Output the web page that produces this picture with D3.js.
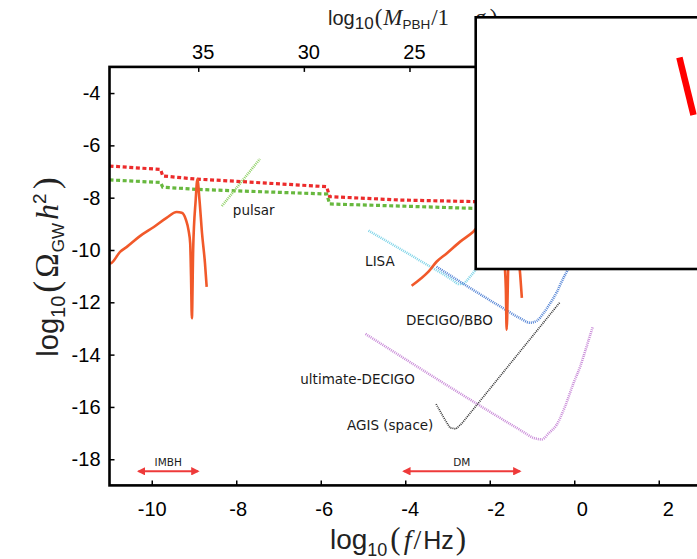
<!DOCTYPE html>
<html>
<head>
<meta charset="utf-8">
<script src="https://cdn.jsdelivr.net/npm/d3@7"></script>
<style>
  html, body { margin: 0; padding: 0; background: #fff; overflow: hidden; }
  svg { display: block; }
</style>
</head>
<body>
<svg id="chart"></svg>
<script>
// GW background from PBH formation vs. detector sensitivities
// all series are [log10(f/Hz), log10(Omega_GW h^2)]

const xTicks = [-10, -8, -6, -4, -2, 0, 2];
const yTicks = [-18, -16, -14, -12, -10, -8, -6, -4];
const massTicks = [35, 30, 25, 20, 15];
const massOffset = 17.2; // log10(M/1g) = massOffset - 2 log10(f/Hz)

// induced spectra (solid orange)
const spectrumImbh = [
    [-11.00, -10.52], [-10.95, -10.49], [-10.75, -10.07], [-10.59, -9.88], [-10.28, -9.47],
    [-9.96, -9.13], [-9.65, -8.77], [-9.41, -8.55], [-9.29, -8.58], [-9.19, -8.85],
    [-9.13, -9.24], [-9.09, -9.75], [-9.07, -11.02], [-9.05, -12.61], [-9.02, -10.00],
    [-8.96, -8.09], [-8.92, -7.30], [-8.87, -8.09], [-8.81, -9.36], [-8.74, -10.51], [-8.70, -11.41]
];
const spectrumDm = [
    [-3.85, -11.37], [-3.65, -11.12], [-3.45, -10.83], [-3.26, -10.45], [-3.02, -10.13],
    [-2.70, -9.68], [-2.39, -9.30], [-2.19, -8.97], [-1.95, -8.97], [-1.83, -9.27],
    [-1.73, -9.66], [-1.67, -10.17], [-1.62, -11.44], [-1.60, -13.05], [-1.56, -10.42],
    [-1.50, -8.51], [-1.46, -7.72], [-1.41, -8.51], [-1.35, -9.78], [-1.28, -10.93], [-1.24, -11.83]
];

// upper bounds (thick dotted)
const boundRed = [
    [-11.0, -6.79], [-9.79, -6.92], [-9.74, -7.17], [-8.94, -7.29], [-8.15, -7.36],
    [-5.86, -7.58], [-5.79, -7.96], [-4.12, -8.09], [-2.36, -8.15], [-2.0, -8.17]
];
const boundGreen = [
    [-11.0, -7.32], [-9.79, -7.42], [-9.74, -7.60], [-8.94, -7.68], [-8.15, -7.73],
    [-5.86, -7.86], [-5.79, -8.24], [-4.12, -8.32], [-2.36, -8.41], [-2.0, -8.43]
];

// detector sensitivities
const pulsar = [[-8.34, -8.32], [-7.44, -6.52]];
const lisa = [
    [-4.87, -9.26], [-3.50, -10.55], [-2.86, -11.17], [-2.74, -11.30], [-2.63, -11.29],
    [-2.55, -11.18], [-2.47, -11.03], [-2.35, -10.78], [-2.15, -10.10]
];
const decigo = [
    [-3.26, -10.64], [-1.68, -12.23], [-1.28, -12.61], [-1.05, -12.78], [-0.89, -12.71],
    [-0.73, -12.42], [-0.57, -12.04], [-0.41, -11.60], [-0.26, -11.08], [-0.16, -10.77], [0.0, -10.10]
];
const agis = [
    [-3.27, -15.89], [-3.10, -16.38], [-2.94, -16.80], [-2.80, -16.84], [-2.66, -16.63], [-0.34, -12.00]
];
const ultimateDecigo = [
    [-4.94, -13.21], [-1.21, -16.95], [-0.97, -17.18], [-0.77, -17.24], [-0.60, -17.00],
    [-0.42, -16.69], [-0.22, -15.99], [-0.02, -15.10], [0.14, -14.46], [0.29, -13.70], [0.44, -12.93]
];

// text anchors for curve labels [f, omega]
const curveLabels = [
    { text: "pulsar", at: [-8.08, -8.66], anchor: "start" },
    { text: "LISA", at: [-4.95, -10.61], anchor: "start" },
    { text: "DECIGO/BBO", at: [-3.98, -12.87], anchor: "start" },
    { text: "ultimate-DECIGO", at: [-3.77, -15.12], anchor: "end" },
    { text: "AGIS (space)", at: [-5.38, -16.88], anchor: "start" }
];

// mass ranges shown as arrows along the bottom
const rangeNames = ["IMBH", "DM"];
const rangeFrom = [-10.36, -4.08];
const rangeTo = [-8.86, -1.24];
const rangeLevel = -18.46;

// inset panel: visible fragment of its red curve, fractions of the panel
const insetCurve = [[0.679, 0.84], [0.726, 0.612]];

const W = 697, H = 559;
const sans = "'Liberation Sans', Arial, sans-serif";
const serif = "'Liberation Serif', 'Times New Roman', serif";
const labelFont = "'DejaVu Sans', sans-serif";

const svg = d3.select("#chart").attr("width", W).attr("height", H);
svg.append("rect").attr("width", W).attr("height", H).attr("fill", "#fff");

const x = d3.scaleLinear().domain([-11, 3]).range([109.5, 701]);
const y = d3.scaleLinear().domain([-19, -3]).range([485.4, 66.9]);
const xMass = d3.scaleLinear()
    .domain([massOffset - 2 * -11, massOffset - 2 * 3])
    .range(x.range());
// the printed tick numbers sit on a slightly wider spacing than the tick marks
const xLabel = d3.scaleLinear().domain([-10, 2]).range([x(-10), x(-10) + 516]);

const defs = svg.append("defs");
defs.append("clipPath").attr("id", "plot-clip")
    .append("rect")
    .attr("x", x(-11)).attr("y", y(-3))
    .attr("width", x(3) - x(-11)).attr("height", y(-19) - y(-3));

defs.append("marker")
    .attr("id", "arrow-head")
    .attr("viewBox", "0 0 10 10")
    .attr("refX", 8).attr("refY", 5)
    .attr("markerWidth", 4.2).attr("markerHeight", 4.2)
    .attr("orient", "auto-start-reverse")
    .append("path")
    .attr("d", "M0,0 L10,5 L0,10 z")
    .attr("fill", "#ee3a3a");

const line = d3.line().x(function (d) { return x(d[0]); }).y(function (d) { return y(d[1]); });
const smooth = d3.line().curve(d3.curveMonotoneX)
    .x(function (d) { return x(d[0]); }).y(function (d) { return y(d[1]); });

// axes
function styleAxis(g) {
    g.select(".domain").remove();
    g.selectAll(".tick line").attr("stroke", "#000").attr("stroke-width", 1.5);
    g.selectAll(".tick text")
        .attr("font-family", sans)
        .attr("font-size", 20)
        .attr("fill", "#000");
}
const fmt = function (d) { return String(d); };

// bottom: marks, then numbers
svg.append("g")
    .attr("transform", "translate(0," + y(-19) + ")")
    .call(d3.axisBottom(x).tickValues(xTicks).tickSize(-5).tickFormat(""))
    .call(styleAxis);
svg.append("g")
    .attr("transform", "translate(0," + y(-19) + ")")
    .call(d3.axisBottom(xLabel).tickValues(xTicks).tickSize(0).tickPadding(16).tickFormat(fmt))
    .call(styleAxis)
    .call(function (g) { g.selectAll(".tick line").remove(); });

svg.append("g")
    .attr("transform", "translate(" + x(-11) + ",0)")
    .call(d3.axisLeft(y).tickValues(yTicks).tickSize(-5).tickPadding(9).tickFormat(fmt))
    .call(styleAxis);

// top: PBH mass
svg.append("g")
    .attr("transform", "translate(0," + y(-3) + ")")
    .call(d3.axisTop(xMass).tickValues(massTicks).tickSize(-5).tickFormat(""))
    .call(styleAxis);
svg.append("g")
    .attr("transform", "translate(4.5," + y(-3) + ")")
    .call(d3.axisTop(xMass).tickValues(massTicks).tickSize(0).tickPadding(8).tickFormat(fmt))
    .call(styleAxis)
    .call(function (g) { g.selectAll(".tick line").remove(); });

// data
const plotG = svg.append("g").attr("clip-path", "url(#plot-clip)");

function dotted(data, color, width, dash, gen) {
    plotG.append("path")
        .datum(data)
        .attr("d", gen || smooth)
        .attr("fill", "none")
        .attr("stroke", color)
        .attr("stroke-width", width)
        .attr("stroke-dasharray", dash);
}

dotted(boundRed, "#ec2b2b", 3.2, "4 2.6", line);
dotted(boundGreen, "#67b83e", 3.2, "4 2.6", line);
dotted(pulsar, "#8fd065", 2.6, "1 1", line);
dotted(lisa, "#7fd4e8", 2.6, "1 1");
dotted(decigo, "#5585d6", 2.6, "1 1");
dotted(ultimateDecigo, "#c98bd8", 2.6, "1 1");
dotted(agis, "#333333", 1.7, "1 1", line);

[spectrumImbh, spectrumDm].forEach(function (s) {
    plotG.append("path")
        .datum(s)
        .attr("d", smooth)
        .attr("fill", "none")
        .attr("stroke", "#f1592a")
        .attr("stroke-width", 2.6)
        .attr("stroke-linejoin", "round");
});

svg.selectAll(".curve-label")
    .data(curveLabels)
    .enter()
    .append("text")
    .attr("class", "curve-label")
    .attr("x", function (d) { return x(d.at[0]); })
    .attr("y", function (d) { return y(d.at[1]); })
    .attr("text-anchor", function (d) { return d.anchor; })
    .attr("font-family", labelFont)
    .attr("font-size", 13.5)
    .attr("fill", "#1a1a1a")
    .text(function (d) { return d.text; });

rangeNames.forEach(function (name, i) {
    svg.append("line")
        .attr("x1", x(rangeFrom[i]) + 2).attr("x2", x(rangeTo[i]) - 2)
        .attr("y1", y(rangeLevel)).attr("y2", y(rangeLevel))
        .attr("stroke", "#ee3a3a")
        .attr("stroke-width", 2)
        .attr("marker-start", "url(#arrow-head)")
        .attr("marker-end", "url(#arrow-head)");
    svg.append("text")
        .attr("x", (x(rangeFrom[i]) + x(rangeTo[i])) / 2)
        .attr("y", y(rangeLevel) - 5)
        .attr("text-anchor", "middle")
        .attr("font-family", labelFont)
        .attr("font-size", 10.5)
        .attr("fill", "#1a1a1a")
        .text(name);
});

// frame
svg.append("rect")
    .attr("x", x(-11)).attr("y", y(-3))
    .attr("width", x(3) - x(-11)).attr("height", y(-19) - y(-3))
    .attr("fill", "none")
    .attr("stroke", "#000")
    .attr("stroke-width", 2.6);

// axis titles: each part carries its own font size and vertical shift
function mathText(parent, parts) {
    const t = parent.append("text").attr("fill", "#222");
    var shift = 0;
    parts.forEach(function (p) {
        const target = p.shift || 0;
        t.append("tspan")
            .attr("dy", target - shift)
            .attr("dx", p.dx || 0)
            .attr("font-family", p.serif ? serif : sans)
            .attr("font-style", p.italic ? "italic" : null)
            .attr("font-size", p.size)
            .text(p.t);
        shift = target;
    });
    return t;
}

mathText(svg, [
    { t: "log", size: 28 }, { t: "10", size: 18, shift: 7 },
    { t: "(", serif: true, size: 31, dx: 3 },
    { t: "f", serif: true, italic: true, size: 28, dx: 3 },
    { t: "/", serif: true, size: 28, dx: 2 },
    { t: "Hz", size: 25, dx: 2 },
    { t: ")", serif: true, size: 31, dx: 2 }
])
    .attr("x", 398).attr("y", 549)
    .attr("text-anchor", "middle");

mathText(svg, [
    { t: "log", size: 29 }, { t: "10", size: 20, shift: 7 },
    { t: "(", serif: true, size: 36, dx: 3 },
    { t: "Ω", serif: true, size: 33, dx: 3 },
    { t: "GW", size: 17, shift: 6, dx: 1 },
    { t: "h", serif: true, italic: true, size: 32, dx: 3 },
    { t: "2", size: 19, shift: -12 },
    { t: ")", serif: true, size: 36, dx: 4 }
])
    .attr("text-anchor", "middle")
    .attr("transform", "translate(58,267) rotate(-90)");

// top title; its tail runs under the inset panel
mathText(svg, [
    { t: "log", size: 20 }, { t: "10", size: 17, shift: 4 },
    { t: "(", serif: true, size: 23, dx: 1 },
    { t: "M", serif: true, italic: true, size: 23, dx: 1 },
    { t: "PBH", size: 13.5, shift: 4 },
    { t: "/1", serif: true, size: 23, dx: 1 },
    { t: "g", serif: true, size: 23, dx: 26 },
    { t: ")", serif: true, size: 23, dx: 3 }
])
    .attr("x", 328).attr("y", 25);

// inset panel, cropped by the page edge
const inset = { left: 475.7, top: 17.3, width: 300, height: 251.7 };
const ix = d3.scaleLinear().domain([0, 1]).range([inset.left, inset.left + inset.width]);
const iy = d3.scaleLinear().domain([0, 1]).range([inset.top + inset.height, inset.top]);

svg.append("rect")
    .attr("x", inset.left).attr("y", inset.top)
    .attr("width", inset.width).attr("height", inset.height)
    .attr("fill", "#fff")
    .attr("stroke", "#000")
    .attr("stroke-width", 2.6);

svg.append("path")
    .datum(insetCurve)
    .attr("d", d3.line().x(function (d) { return ix(d[0]); }).y(function (d) { return iy(d[1]); }))
    .attr("fill", "none")
    .attr("stroke", "#ff0000")
    .attr("stroke-width", 6.5);
</script>
</body>
</html>
